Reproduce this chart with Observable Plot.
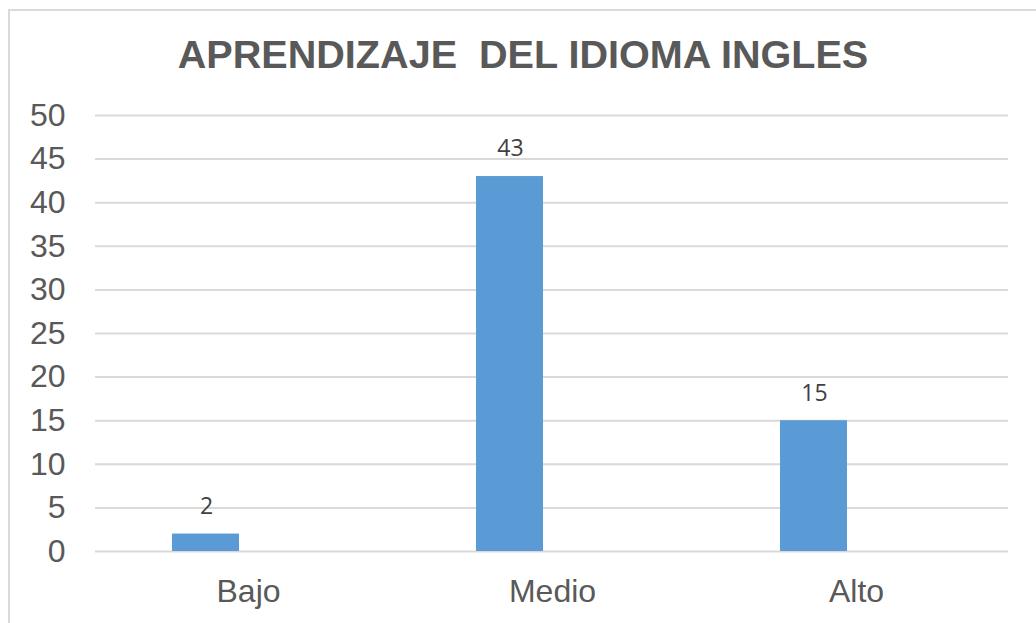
<!DOCTYPE html>
<html>
<head>
<meta charset="utf-8">
<script src="https://cdn.jsdelivr.net/npm/d3@7"></script>
<script src="https://cdn.jsdelivr.net/npm/@observablehq/plot@0.6"></script>
<style>
  html, body { margin: 0; padding: 0; background: #fff; }
  #wrap { position: relative; width: 1036px; height: 623px; overflow: hidden; background: #fff; }
  #frame { position: absolute; left: 8px; top: 9px; width: 1100px; height: 700px; border: 2px solid #d9d9d9; box-sizing: border-box; }
  #title { position: absolute; left: 0; top: 29px; width: 1046px; text-align: center; white-space: pre;
           font-family: "Liberation Sans", Arial, sans-serif; font-weight: bold; font-size: 39.6px; color: #595959; line-height: 50px; }
  #chart { position: absolute; left: 0; top: 0; }
</style>
</head>
<body>
<div id="wrap">
  <div id="frame"></div>
  <div id="title">APRENDIZAJE  DEL IDIOMA INGLES</div>
  <div id="chart"></div>
</div>
<script>
const categories = ["Bajo", "Medio", "Alto"];
const values = [2, 43, 15];
const yTicks = [0, 5, 10, 15, 20, 25, 30, 35, 40, 45, 50];

const data = categories.map((c, i) => ({category: c, value: values[i]}));

const plot = Plot.plot({
  width: 1036,
  height: 623,
  marginTop: 115,
  marginBottom: 72,
  marginLeft: 95,
  marginRight: 28,
  style: {fontFamily: "'Liberation Sans', Arial, sans-serif", background: "transparent"},
  x: {domain: categories, padding: 0, label: null},
  y: {domain: [0, 50], ticks: yTicks, label: null},
  marks: [
    Plot.ruleY(yTicks, {stroke: "#d9d9d9", strokeWidth: 2}),
    Plot.barY(data, {x: "category", y: "value", fill: "#5b9bd5", insetLeft: 76, insetRight: 161}),
    Plot.text(data, {x: "category", y: "value", text: d => String(d.value), dx: -42, dy: -27.5,
      fontSize: 23, fill: "#404040", fontFamily: "'Open Sans', 'Noto Sans', sans-serif"}),
    Plot.axisY({ticks: yTicks, tickSize: 0, tickPadding: 30, fontSize: 32, color: "#595959", label: null}),
    Plot.axisX({tickSize: 0, tickPadding: 28, fontSize: 32, color: "#595959", label: null})
  ]
});
document.getElementById("chart").appendChild(plot);
</script>
</body>
</html>
